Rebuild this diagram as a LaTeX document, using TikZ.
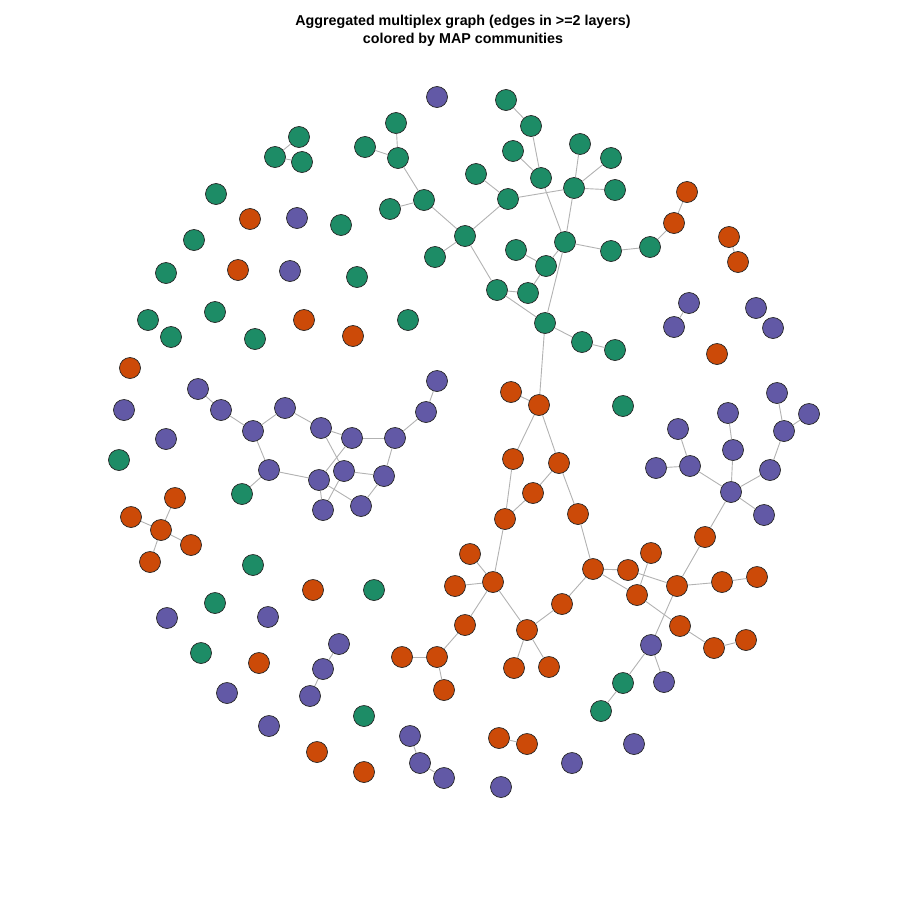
\documentclass[tikz,border=0pt]{standalone}
\usepackage{fontspec}
\setmainfont{Liberation Sans}
\begin{document}
\begin{tikzpicture}[x=1pt,y=-1pt,
  vtx/.style={circle,draw=black!85,line width=0.7pt,minimum size=21pt,inner sep=0pt},
  gn/.style={vtx,fill=grn},
  on/.style={vtx,fill=org},
  pn/.style={vtx,fill=prp},
  edgeln/.style={draw=black!30,line width=0.9pt},
  ttl/.style={font=\bfseries\fontsize{14.3}{18}\selectfont,align=center}]
\definecolor{grn}{HTML}{1D8C66}
\definecolor{org}{HTML}{CC4A08}
\definecolor{prp}{HTML}{6259A6}
\useasboundingbox (0,0) rectangle (900,900);
\node[ttl] (title) at (463,31) {Aggregated multiplex graph (edges in >=2 layers)\\colored by MAP communities};
% green
\foreach \n/\x/\y in {g1/506/100,g2/531/126,g3/299/137,g4/275/157,g5/302/162,g6/396/123,g7/365/147,g8/398/158,g9/513/151,g10/580/144,g11/611/158,g12/476/174,g13/541/178,g14/574/188,g15/615/190,g16/216/194,g17/390/209,g18/424/200,g19/508/199,g20/341/225,g21/465/236,g22/194/240,g23/435/257,g24/516/250,g25/565/242,g26/611/251,g27/650/247,g28/166/273,g29/357/277,g30/546/266,g31/497/290,g32/528/293,g33/215/312,g34/148/320,g35/171/337,g36/255/339,g37/408/320,g38/545/323,g39/582/342,g40/615/350,g41/623/406,g42/119/460,g43/242/494,g44/253/565,g45/374/590,g46/215/603,g47/201/653,g48/623/683,g49/601/711,g50/364/716}
  \node[gn] (\n) at (\x,\y) {};
% orange
\foreach \n/\x/\y in {o1/687/192,o2/674/223,o3/729/237,o4/738/262,o5/250/219,o6/238/270,o7/304/320,o8/353/336,o9/717/354,o10/130/368,o11/511/392,o12/539/405,o13/513/459,o14/559/463,o15/533/493,o16/505/519,o17/578/514,o18/175/498,o19/131/517,o20/161/530,o21/191/545,o22/150/562,o23/470/554,o24/455/586,o25/493/582,o26/593/569,o27/628/570,o28/651/553,o29/637/595,o30/677/586,o31/722/582,o32/757/577,o33/705/537,o34/313/590,o35/562/604,o36/465/625,o37/527/630,o38/680/626,o39/714/648,o40/746/640,o41/402/657,o42/437/657,o43/259/663,o44/514/668,o45/549/667,o46/444/690,o47/499/738,o48/527/744,o49/317/752,o50/364/772}
  \node[on] (\n) at (\x,\y) {};
% purple
\foreach \n/\x/\y in {p1/437/97,p2/297/218,p3/290/271,p4/689/303,p5/674/327,p6/756/308,p7/773/328,p8/437/381,p9/198/389,p10/124/410,p11/221/410,p12/285/408,p13/426/412,p14/253/431,p15/321/428,p16/352/438,p17/395/438,p18/166/439,p19/269/470,p20/344/471,p21/319/480,p22/384/476,p23/323/510,p24/361/506,p25/777/393,p26/728/413,p27/809/414,p28/784/431,p29/678/429,p30/733/450,p31/656/468,p32/690/466,p33/770/470,p34/731/492,p35/764/515,p36/167/618,p37/268/617,p38/339/644,p39/651/645,p40/323/669,p41/664/682,p42/310/696,p43/227/693,p44/269/726,p45/410/736,p46/634/744,p47/572/763,p48/420/763,p49/444/778,p50/501/787}
  \node[pn] (\n) at (\x,\y) {};
% edges
\foreach \a/\b in {g3/g4,g4/g5,g6/g8,g7/g8,g8/g18,g18/g21,g17/g18,g21/g19,g21/g23,g21/g31,g19/g12,g19/g14,g1/g2,g2/g13,g9/g13,g13/g25,g14/g10,g14/g11,g14/g15,g14/g25,g25/g30,g30/g24,g30/g32,g32/g31,g31/g38,g25/g38,g25/g26,g26/g27,g27/o2,o2/o1,o3/o4,g38/g39,g39/g40,g38/o12,p4/p5,
o11/o12,o12/o13,o12/o14,o14/o15,o15/o16,o13/o16,o14/o17,o17/o26,o16/o25,o25/o23,o25/o24,o25/o36,o25/o37,o36/o42,o42/o41,o42/o46,o37/o44,o37/o45,o37/o35,o35/o26,o26/o27,o26/o29,o27/o30,o28/o29,o29/o38,o38/o39,o39/o40,o30/o31,o31/o32,o30/o33,o33/p34,o30/p39,p39/g48,p39/p41,g48/g49,
p25/p28,p27/p28,p28/p33,p33/p34,p26/p30,p30/p34,p29/p32,p31/p32,p32/p34,p34/p35,
p9/p11,p11/p14,p14/p12,p12/p15,p15/p16,p14/p19,p19/g43,p19/p21,p15/p20,p16/p21,p16/p17,p17/p13,p13/p8,p17/p22,p20/p22,p20/p23,p21/p23,p21/p24,p24/p22,
o18/o20,o19/o20,o20/o21,o20/o22,p38/p40,p40/p42,p45/p48,p48/p49,o47/o48}
  \draw[edgeln] (\a) -- (\b);
\end{tikzpicture}
\end{document}
